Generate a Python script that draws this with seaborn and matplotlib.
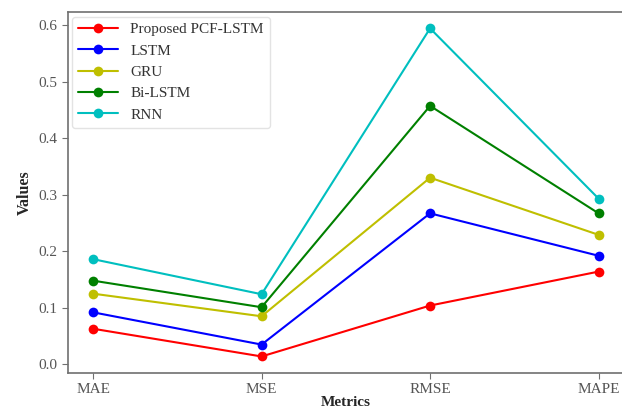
import matplotlib
matplotlib.use("Agg")
import matplotlib.pyplot as plt
import seaborn as sns
import pandas as pd

metrics = ["MAE", "MSE", "RMSE", "MAPE"]
models = ["Proposed PCF-LSTM", "LSTM", "GRU", "Bi-LSTM", "RNN"]
proposed = [0.063, 0.014, 0.104, 0.164]
lstm = [0.092, 0.035, 0.267, 0.192]
gru = [0.125, 0.085, 0.330, 0.229]
bilstm = [0.148, 0.101, 0.457, 0.267]
rnn = [0.186, 0.124, 0.594, 0.293]
colors = ["red", "blue", "y", "g", "c"]

series = [proposed, lstm, gru, bilstm, rnn]
rows = []
for m, vals in zip(models, series):
    for met, v in zip(metrics, vals):
        rows.append({"Metrics": met, "Values": v, "Model": m})
df = pd.DataFrame(rows)

sns.set_style("ticks")
plt.rcParams["font.family"] = ["Liberation Serif", "DejaVu Serif"]

fig = plt.figure(figsize=(6.22, 4.12), dpi=100)
ax = fig.add_axes([0.109, 0.095, 0.894, 0.876])
sns.lineplot(data=df, x="Metrics", y="Values", hue="Model", hue_order=models,
             palette=colors, marker="o", markersize=7, markeredgewidth=0,
             linewidth=1.5, sort=False, ax=ax)

for s in ax.spines.values():
    s.set_color("#707070")
    s.set_linewidth(1.2)
ax.tick_params(colors="#707070", labelcolor="#555555", labelsize=11, length=4)
ax.set_xlabel("Metrics", fontsize=11, fontweight="bold", labelpad=0)
ax.set_ylabel("Values", fontsize=11.5, fontweight="bold")
ax.set_yticks([0.0, 0.1, 0.2, 0.3, 0.4, 0.5, 0.6])
ax.set_yticklabels(["0.0", "0.1", "0.2", "0.3", "0.4", "0.5", "0.6"])
leg = ax.legend(loc="upper left", fontsize=11, frameon=True, handlelength=2.6,
                borderaxespad=0.3)
leg.get_frame().set_edgecolor("#dddddd")
for t in leg.get_texts():
    t.set_color("#333333")

fig.savefig("out.png", dpi=100)
